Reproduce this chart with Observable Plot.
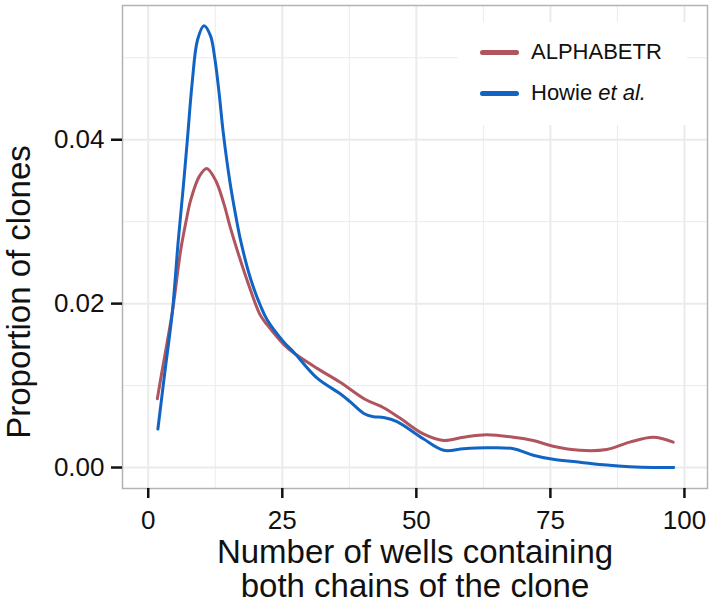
<!DOCTYPE html>
<html>
<head>
<meta charset="utf-8">
<script src="https://cdn.jsdelivr.net/npm/d3@7"></script>
<script src="https://cdn.jsdelivr.net/npm/@observablehq/plot@0.6"></script>
<style>
  body { margin: 0; background: white; }
  #wrap { position: relative; width: 714px; height: 607px; font-family: "Liberation Sans", Arial, sans-serif; }
  #legend { position: absolute; left: 458px; top: 22px; width: 229px; height: 103px; background: white; }
  .item { position: absolute; left: 22px; display: flex; align-items: center; font-size: 22px; color: #111; }
  .key { width: 39px; height: 5px; border-radius: 3px; margin-right: 12px; }
</style>
</head>
<body>
<div id="wrap"></div>
<script>
// Data
const wellsAlphabetr = [1.7, 2.45, 4.5, 6.05, 7.1, 7.9, 9.5, 10.9, 12.6, 14.1, 15.3, 16.6, 19.1, 20.9, 22.2, 25.3, 27.1, 31.5, 35.8, 40.5, 43.9, 47.0, 51.3, 55.1, 58.8, 63.1, 68.1, 71.8, 75.5, 80.5, 85.5, 89.8, 94.2, 97.9];
const propAlphabetr = [0.0084, 0.0113, 0.0190, 0.0265, 0.0302, 0.0326, 0.0355, 0.0365, 0.0350, 0.0322, 0.0293, 0.0265, 0.0216, 0.0186, 0.0174, 0.0150, 0.0140, 0.0121, 0.0104, 0.0083, 0.0073, 0.0060, 0.0041, 0.0033, 0.0037, 0.0040, 0.0037, 0.0033, 0.0026, 0.0021, 0.0022, 0.0031, 0.0037, 0.0031];
const wellsHowie = [1.8, 3.07, 4.5, 5.6, 6.5, 7.3, 8.2, 9.2, 10.4, 11.6, 12.4, 13.2, 14.0, 15.2, 16.3, 17.3, 19.1, 20.9, 22.2, 25.3, 27.1, 31.5, 35.8, 37.7, 40.2, 42.0, 43.9, 46.4, 51.3, 55.1, 58.8, 63.1, 68.1, 71.8, 75.5, 80.5, 85.5, 89.8, 94.2, 98.0];
const propHowie = [0.0047, 0.0115, 0.0190, 0.0277, 0.0340, 0.0400, 0.0470, 0.0522, 0.0539, 0.0527, 0.0500, 0.0458, 0.0408, 0.0350, 0.0308, 0.0275, 0.0230, 0.0198, 0.0180, 0.0153, 0.0141, 0.0109, 0.0090, 0.0080, 0.0066, 0.0062, 0.0061, 0.0056, 0.0035, 0.0021, 0.0023, 0.0024, 0.0023, 0.0015, 0.0010, 0.00065, 0.0003, 0.0001, 0.0, 0.0];
const seriesNames = ["ALPHABETR", "Howie et al."];
const seriesColors = ["#b0545e", "#1164c4"];
const xTicks = [0, 25, 50, 75, 100];
const xMinor = [12.5, 37.5, 62.5, 87.5];
const yTicks = [0, 0.02, 0.04];
const yMinor = [0.01, 0.03, 0.05];
const xTitle = "Number of wells containing\nboth chains of the clone";
const yTitle = "Proportion of clones";

const dataA = wellsAlphabetr.map((x, i) => ({x, y: propAlphabetr[i], s: seriesNames[0]}));
const dataH = wellsHowie.map((x, i) => ({x, y: propHowie[i], s: seriesNames[1]}));

const grid = "#ebebeb";
const chart = Plot.plot({
  width: 714,
  height: 607,
  marginLeft: 122,
  marginRight: 7,
  marginTop: 5,
  marginBottom: 119,
  style: {fontFamily: "'Liberation Sans', Arial, sans-serif", color: "#111", background: "white"},
  x: {domain: [-4.8, 104.3]},
  y: {domain: [-0.00256, 0.05638]},
  color: {domain: seriesNames, range: seriesColors},
  marks: [
    Plot.ruleX(xMinor, {stroke: grid, strokeWidth: 1}),
    Plot.ruleY(yMinor, {stroke: grid, strokeWidth: 1}),
    Plot.ruleX(xTicks, {stroke: grid, strokeWidth: 2}),
    Plot.ruleY(yTicks, {stroke: grid, strokeWidth: 2}),
    Plot.frame({stroke: "#b3b3b3", strokeWidth: 1.5}),
    Plot.line(dataA, {x: "x", y: "y", stroke: "s", strokeWidth: 3, curve: "catmull-rom"}),
    Plot.line(dataH, {x: "x", y: "y", stroke: "s", strokeWidth: 3, curve: "catmull-rom"}),
    Plot.axisX({ticks: xTicks, tickSize: 10, tickPadding: 12, strokeWidth: 2.5, fontSize: 26, label: null, tickFormat: d => String(d)}),
    Plot.axisY({ticks: yTicks, tickSize: 11, tickPadding: 7, strokeWidth: 2.5, fontSize: 26, label: null, tickFormat: d3.format(".2f")}),
    Plot.text([xTitle], {frameAnchor: "bottom", text: d => d, fontSize: 33, lineAnchor: "top", lineHeight: 1.03, dy: 50}),
    Plot.text([yTitle], {frameAnchor: "left", textAnchor: "middle", text: d => d, fontSize: 33, rotate: -90, dx: -103, dy: 45})
  ]
});

const wrap = document.getElementById("wrap");
wrap.appendChild(chart);

const legend = document.createElement("div");
legend.id = "legend";
legend.innerHTML =
  `<div class="item" style="top:17px"><span class="key" style="background:${seriesColors[0]}"></span>${seriesNames[0]}</div>` +
  `<div class="item" style="top:58px"><span class="key" style="background:${seriesColors[1]}"></span>Howie&nbsp;<i>et al.</i></div>`;
wrap.appendChild(legend);
</script>
</body>
</html>
